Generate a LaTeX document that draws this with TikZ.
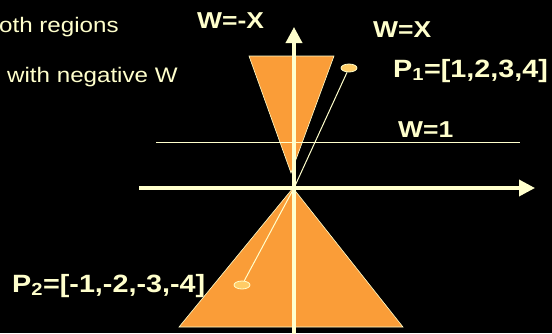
\documentclass[tikz,border=0pt]{standalone}
\usepackage{fontspec}
\setmainfont[FakeStretch=1.15]{Liberation Sans}
\usetikzlibrary{arrows.meta,shapes.geometric}
\definecolor{ltyel}{RGB}{255,255,204}
\definecolor{orng}{RGB}{250,157,56}
\definecolor{ellfill}{RGB}{255,204,102}
\begin{document}
\begin{tikzpicture}[x=1pt,y=-1pt,
  txt/.style={text=ltyel,inner sep=0pt,anchor=base west,font=\fontsize{21}{25}\selectfont},
  lbl/.style={text=ltyel,inner sep=0pt,anchor=base west,font=\fontsize{23}{27}\selectfont\bfseries},
  plbl/.style={text=ltyel,inner sep=0pt,anchor=base west,font=\fontsize{25}{29}\selectfont\bfseries},
  cone/.style={fill=orng,draw=ltyel,line width=0.6pt,line join=miter},
  thin/.style={draw=ltyel,line width=1pt},
  axis/.style={draw=ltyel,line width=3.5pt,-{Triangle[length=16pt,width=16pt]}},
  pt/.style={ellipse,fill=ellfill,draw=ltyel,line width=0.8pt,minimum width=16pt,minimum height=8pt,inner sep=0pt}]
\fill[black] (0,0) rectangle (552,333);
\useasboundingbox (0,0) rectangle (552,333);
% cones
\path[cone] (249,56) -- (334,56) -- (291,173) -- cycle;
\path[cone] (293,188) -- (403,327) -- (179,327) -- cycle;
% coordinates
\coordinate (O) at (294,188);
\coordinate (vb) at (294,340);
\coordinate (vt) at (294,27);
\coordinate (hl) at (139,188);
\coordinate (hr) at (535,188);
\coordinate (w1l) at (156,142);
\coordinate (w1r) at (520,142);
% points
\node[pt] (p1) at (349,68) {};
\node[pt] (p2) at (242,285) {};
% thin lines
\draw[thin] (w1l) -- (w1r);
\draw[thin] (O) -- (p1);
\draw[thin] (O) -- (p2);
% axes
\draw[axis] (vb) -- (vt);
\draw[axis] (hl) -- (hr);
% texts
\node[txt] (t1) at (-1,32) {oth regions};
\node[txt] (t2) at (7,82) {with negative W};
\node[lbl] (wmx) at (197,28) {W=-X};
\node[lbl] (wx) at (373,37) {W=X};
\node[lbl] (w1) at (398,137) {W=1};
\node[plbl] (lp1) at (393,77) {P\textsubscript{1}=[1,2,3,4]};
\node[plbl] (lp2) at (12,292) {P\textsubscript{2}=[-1,-2,-3,-4]};
\end{tikzpicture}
\end{document}
